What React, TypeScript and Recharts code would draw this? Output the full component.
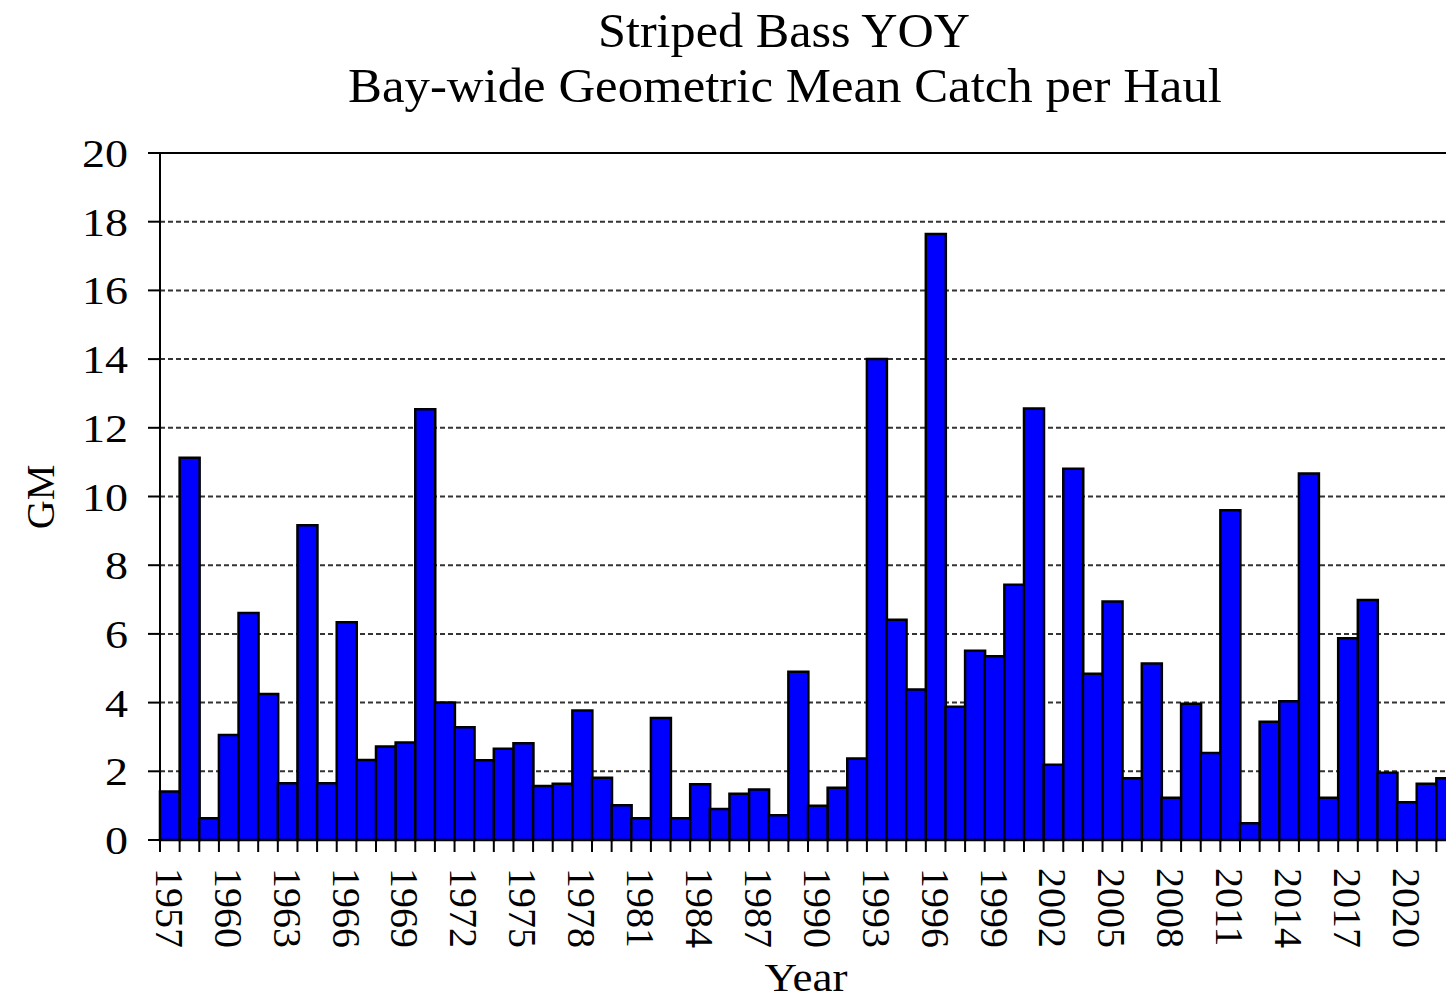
import React from 'react';
import { BarChart, Bar, XAxis, YAxis, CartesianGrid, ReferenceLine } from 'recharts';

const years = [
  '1957', '1958', '1959', '1960', '1961', '1962', '1963', '1964', '1965', '1966', '1967',
  '1968', '1969', '1970', '1971', '1972', '1973', '1974', '1975', '1976', '1977', '1978',
  '1979', '1980', '1981', '1982', '1983', '1984', '1985', '1986', '1987', '1988', '1989',
  '1990', '1991', '1992', '1993', '1994', '1995', '1996', '1997', '1998', '1999', '2000',
  '2001', '2002', '2003', '2004', '2005', '2006', '2007', '2008', '2009', '2010', '2011',
  '2012', '2013', '2014', '2015', '2016', '2017', '2018', '2019', '2020', '2021', '2022',
];

const gm = [
  1.41, 11.13, 0.63, 3.06, 6.61, 4.25, 1.65, 9.16, 1.65, 6.34, 2.33,
  2.72, 2.84, 12.54, 4.0, 3.28, 2.32, 2.66, 2.82, 1.57, 1.64, 3.77,
  1.81, 1.01, 0.63, 3.55, 0.63, 1.62, 0.9, 1.35, 1.47, 0.72, 4.9,
  1.0, 1.52, 2.37, 14.0, 6.41, 4.38, 17.64, 3.88, 5.51, 5.35, 7.43,
  12.56, 2.19, 10.81, 4.84, 6.94, 1.8, 5.14, 1.23, 3.97, 2.53, 9.6,
  0.49, 3.44, 4.04, 10.67, 1.23, 5.87, 6.99, 1.96, 1.1, 1.64, 1.8,
];

const yTicks = [0, 2, 4, 6, 8, 10, 12, 14, 16, 18, 20];

const data = years.map((year, i) => ({ year, gm: gm[i] }));

const FONT = '"Liberation Serif", "Times New Roman", serif';
const CHART_W = 1456;
const CHART_H = 1001;
const Y_AXIS_W = 160;
const BAND = (CHART_W - Y_AXIS_W) / years.length;

function YearTick(props: any) {
  const { x, y, payload } = props;
  const i = payload.index;
  const ly = y + 28;
  return (
    <g>
      <line x1={x - BAND / 2} x2={x - BAND / 2} y1={y} y2={y + 12} stroke="#000" strokeWidth={2} />
      {i % 3 === 0 && (
        <text
          x={x}
          y={ly}
          dy="0.35em"
          transform={`rotate(90 ${x} ${ly})`}
          textAnchor="start"
          fontSize={40}
          fontFamily={FONT}
          fill="#000"
        >
          {payload.value}
        </text>
      )}
    </g>
  );
}

// reference glyphs are a bit wider than Liberation Serif, so stretch the labels a little
function GmTick(props: any) {
  const { x, y, payload } = props;
  const label = String(payload.value);
  return (
    <text
      x={x}
      y={y}
      dy="0.35em"
      textAnchor="end"
      fontSize={40}
      fontFamily={FONT}
      fill="#000"
      textLength={label.length * 23}
      lengthAdjust="spacingAndGlyphs"
    >
      {label}
    </text>
  );
}

export default function App() {
  return (
    <div
      style={{
        position: 'absolute',
        left: 0,
        top: 0,
        width: 1446,
        height: 1001,
        overflow: 'hidden',
        background: '#fff',
        fontFamily: FONT,
      }}
    >
      <svg
        width={1446}
        height={130}
        style={{ position: 'absolute', left: 0, top: 0, pointerEvents: 'none' }}
      >
        <text
          x={784}
          y={47}
          textAnchor="middle"
          fontSize={48}
          fontFamily={FONT}
          fill="#000"
          textLength={372}
          lengthAdjust="spacingAndGlyphs"
        >
          Striped Bass YOY
        </text>
        <text
          x={785}
          y={102}
          textAnchor="middle"
          fontSize={48}
          fontFamily={FONT}
          fill="#000"
          textLength={874}
          lengthAdjust="spacingAndGlyphs"
        >
          Bay-wide Geometric Mean Catch per Haul
        </text>
      </svg>
      <BarChart
        width={CHART_W}
        height={CHART_H}
        data={data}
        margin={{ top: 153, right: 0, left: 0, bottom: 0 }}
        barCategoryGap={0}
        barGap={0}
      >
        <CartesianGrid vertical={false} stroke="#333" strokeWidth={2} strokeDasharray="5 3" />
        <ReferenceLine y={20} stroke="#000" strokeWidth={2} />
        <XAxis
          dataKey="year"
          interval={0}
          height={161}
          tickSize={0}
          tickMargin={0}
          tickLine={false}
          axisLine={{ stroke: '#000', strokeWidth: 2 }}
          tick={<YearTick />}
          label={{
            content: () => (
              <text
                x={806}
                y={991}
                textAnchor="middle"
                fontSize={40}
                fontFamily={FONT}
                fill="#000"
                textLength={83}
                lengthAdjust="spacingAndGlyphs"
              >
                Year
              </text>
            ),
          }}
        />
        <YAxis
          width={Y_AXIS_W}
          domain={[0, 20]}
          ticks={yTicks}
          interval={0}
          tickSize={12}
          tickMargin={20}
          tickLine={{ stroke: '#000', strokeWidth: 2 }}
          axisLine={{ stroke: '#000', strokeWidth: 2 }}
          tick={<GmTick />}
          label={{
            content: () => (
              <text
                x={40}
                y={497}
                transform="rotate(-90 40 497)"
                dy="0.35em"
                textAnchor="middle"
                fontSize={40}
                fontFamily={FONT}
                fill="#000"
              >
                GM
              </text>
            ),
          }}
        />
        <Bar dataKey="gm" fill="#0000FF" stroke="#000" strokeWidth={2.5} isAnimationActive={false} />
      </BarChart>
    </div>
  );
}
